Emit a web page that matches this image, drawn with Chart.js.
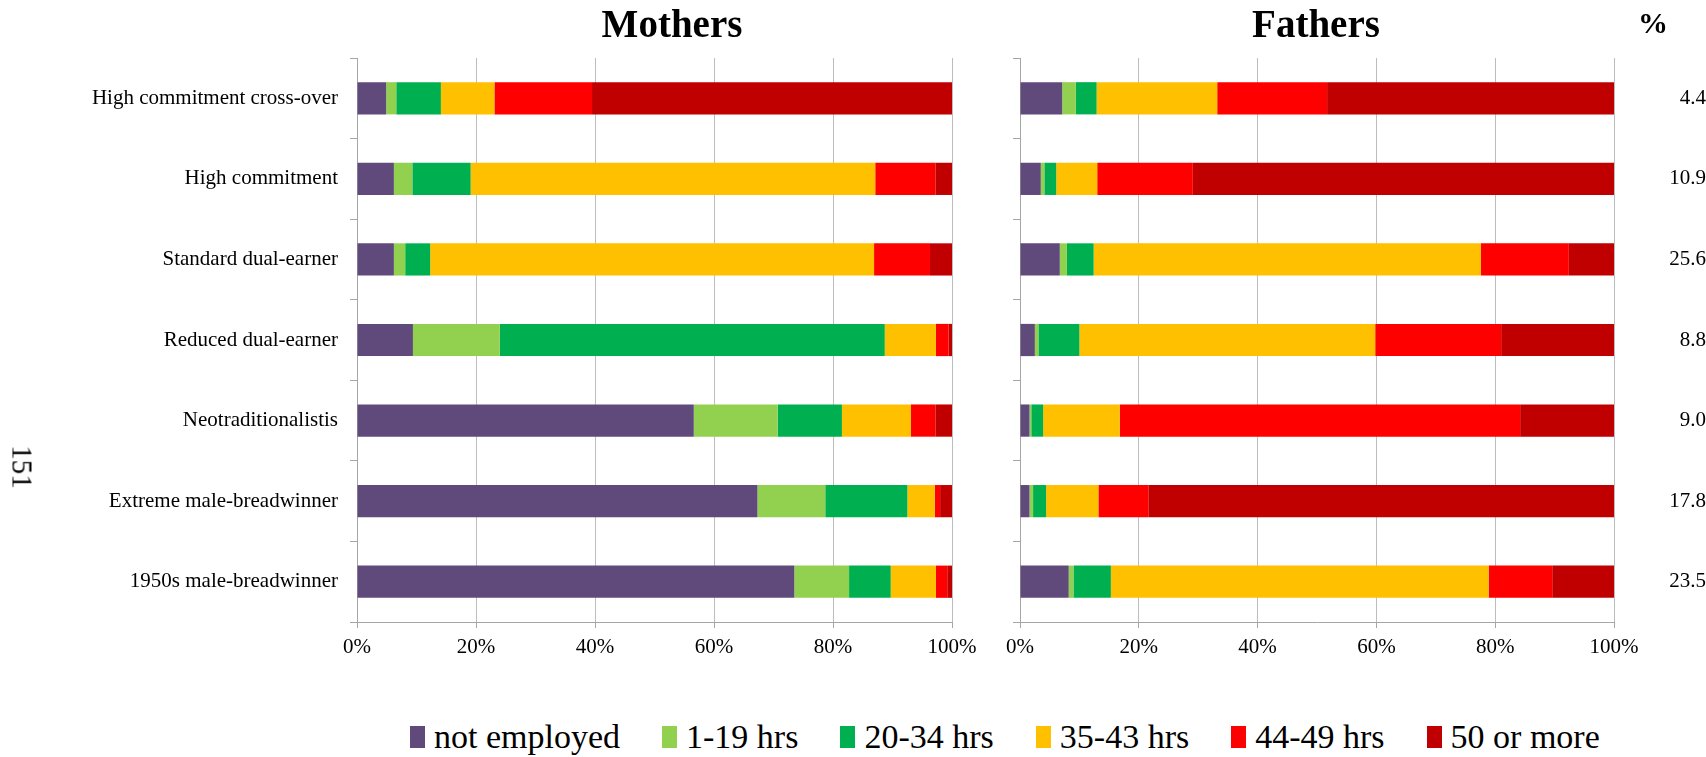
<!DOCTYPE html>
<html>
<head>
<meta charset="utf-8">
<script src="https://cdn.jsdelivr.net/npm/chart.js"></script>
<style>
  body { margin: 0; background: #fff; width: 1706px; height: 757px; overflow: hidden; position: relative;
         font-family: "Liberation Serif", serif; color: #000; }
  canvas { position: absolute; top: 0; }
  .title { position: absolute; font-weight: bold; font-size: 39px; line-height: 40px; top: 4px; white-space: nowrap; transform: translateX(-50%); }
  #pct { position: absolute; font-weight: bold; font-size: 30px; line-height: 30px; top: 8px; right: 38px; }
  #page { position: absolute; left: 22px; top: 467px; font-size: 29px; line-height: 29px; transform: translate(-50%, -50%) rotate(90deg); }
  #legend { position: absolute; left: 410px; top: 717px; height: 40px; display: flex; align-items: center; font-size: 34px; line-height: 40px; white-space: nowrap; }
  #legend .item { display: flex; align-items: center; margin-right: 42px; }
  #legend .item:last-child { margin-right: 0; }
  #legend .box { width: 15px; height: 22px; margin-right: 9px; }
</style>
</head>
<body>
<canvas id="mothers" width="990" height="680" style="left:0"></canvas>
<canvas id="fathers" width="746" height="680" style="left:960px"></canvas>
<div class="title" style="left:672px">Mothers</div>
<div class="title" style="left:1316px">Fathers</div>
<div id="pct">%</div>
<div id="page">151</div>
<div id="legend"></div>
<script>
// data (percent of each group)
const categories = ['High commitment cross-over', 'High commitment', 'Standard dual-earner', 'Reduced dual-earner',
  'Neotraditionalistis', 'Extreme male-breadwinner', '1950s male-breadwinner'];
const shares = ['4.4', '10.9', '25.6', '8.8', '9.0', '17.8', '23.5'];
const tickLabels = ['0%', '20%', '40%', '60%', '80%', '100%'];

const seriesNames = ['not employed', '1-19 hrs', '20-34 hrs', '35-43 hrs', '44-49 hrs', '50 or more'];
const seriesColors = ['#604A7B', '#92D050', '#00B050', '#FFC000', '#FF0000', '#C00000'];

// mothers
const mNotEmployed = [4.9, 6.2, 6.2, 9.4, 56.6, 67.3, 73.5];
const m1to19 = [1.7, 3.1, 1.9, 14.6, 14.1, 11.4, 9.2];
const m20to34 = [7.5, 9.8, 4.2, 64.7, 10.8, 13.8, 7.0];
const m35to43 = [9.0, 68.0, 74.6, 8.6, 11.6, 4.6, 7.6];
const m44to49 = [16.4, 10.1, 9.4, 2.1, 4.1, 0.9, 1.9];
const m50plus = [60.5, 2.8, 3.7, 0.6, 2.8, 2.0, 0.8];

// fathers
const fNotEmployed = [7.1, 3.5, 6.7, 2.5, 1.6, 1.6, 8.2];
const f1to19 = [2.3, 0.6, 1.2, 0.6, 0.3, 0.6, 0.8];
const f20to34 = [3.5, 2.0, 4.5, 6.9, 2.0, 2.2, 6.3];
const f35to43 = [20.3, 6.9, 65.2, 49.8, 12.9, 8.8, 63.6];
const f44to49 = [18.5, 16.1, 14.8, 21.2, 67.4, 8.4, 10.7];
const f50plus = [48.3, 70.9, 7.6, 19.0, 15.8, 78.4, 10.4];

const mothersData = [mNotEmployed, m1to19, m20to34, m35to43, m44to49, m50plus];
const fathersData = [fNotEmployed, f1to19, f20to34, f35to43, f44to49, f50plus];

Chart.defaults.font.family = '"Liberation Serif", serif';
Chart.defaults.color = '#000';
Chart.defaults.animation = false;

const axisColor = '#a6a6a6';
const gridColor = '#bdbdbd';

function makeSets(rows) {
  return rows.map((vals, i) => ({
    label: seriesNames[i],
    data: vals,
    backgroundColor: seriesColors[i],
    borderWidth: 0,
    barPercentage: 0.4,
    categoryPercentage: 1
  }));
}

function xScale() {
  return {
    stacked: true,
    min: 0, max: 100,
    ticks: { stepSize: 20, padding: 7, font: { size: 21 }, callback: (v, i) => tickLabels[i] },
    grid: { color: gridColor, tickLength: 6, tickColor: axisColor },
    border: { color: axisColor },
    afterFit: s => { s.height = 58; }
  };
}

function yScale(showLabels, w) {
  return {
    stacked: true,
    grid: { drawOnChartArea: false, tickLength: 7, color: axisColor, offset: true },
    border: { color: axisColor },
    ticks: { display: showLabels, padding: 12, font: { size: 21 } },
    afterFit: s => { s.width = w; }
  };
}

new Chart(document.getElementById('mothers'), {
  type: 'bar',
  data: { labels: categories, datasets: makeSets(mothersData) },
  options: {
    indexAxis: 'y',
    responsive: false,
    layout: { padding: { top: 58, right: 38, left: 0, bottom: 0 } },
    plugins: { legend: { display: false }, tooltip: { enabled: false } },
    scales: { x: xScale(), y: yScale(true, 357) }
  }
});

new Chart(document.getElementById('fathers'), {
  type: 'bar',
  data: { labels: categories, datasets: makeSets(fathersData) },
  options: {
    indexAxis: 'y',
    responsive: false,
    layout: { padding: { top: 58, right: 0, left: 0, bottom: 0 } },
    plugins: { legend: { display: false }, tooltip: { enabled: false } },
    scales: {
      x: xScale(),
      y: yScale(false, 60),
      y2: {
        type: 'category',
        labels: shares,
        position: 'right',
        offset: true,
        grid: { display: false, drawTicks: false },
        border: { display: false },
        ticks: { crossAlign: 'far', padding: 40, font: { size: 21 } },
        afterFit: s => { s.width = 92; }
      }
    }
  }
});

// legend below both panels
const legend = document.getElementById('legend');
seriesNames.forEach((name, i) => {
  const item = document.createElement('div');
  item.className = 'item';
  item.innerHTML = '<span class="box" style="background:' + seriesColors[i] + '"></span><span>' + name + '</span>';
  legend.appendChild(item);
});
</script>
</body>
</html>
